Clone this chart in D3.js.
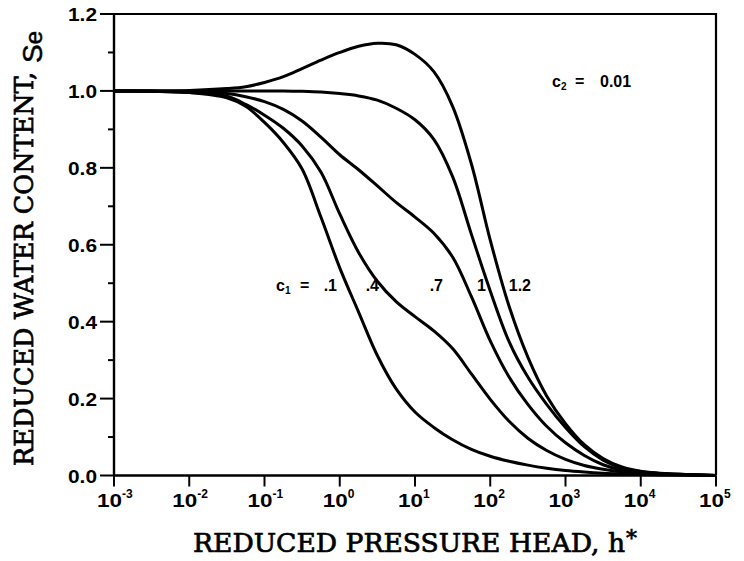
<!DOCTYPE html>
<html>
<head>
<meta charset="utf-8">
<script src="https://cdn.jsdelivr.net/npm/d3@7"></script>
<style>
  html, body { margin: 0; padding: 0; background: #fff; }
  svg { display: block; }
</style>
</head>
<body>
<svg id="chart" width="744" height="561"></svg>
<script>
// ---- data ----
// reduced pressure head h* (quarter-decade steps in the middle)
const hValues = [0.001, 0.00316, 0.01, 0.0316, 0.0562, 0.1, 0.178, 0.316, 0.562, 1, 1.78, 3.16, 5.62, 10, 17.8, 31.6, 56.2, 100, 178, 316, 562, 1000, 1780, 3160, 5620, 10000, 31600, 100000];
const seC1_01 = [1.0, 0.999, 0.996, 0.982, 0.96, 0.918, 0.866, 0.797, 0.672, 0.54, 0.425, 0.312, 0.225, 0.165, 0.125, 0.093, 0.068, 0.05, 0.037, 0.027, 0.019, 0.013, 0.009, 0.006, 0.004, 0.0025, 0.001, 0.0];
const seC1_04 = [1.0, 0.999, 0.996, 0.986, 0.965, 0.937, 0.903, 0.857, 0.789, 0.68, 0.58, 0.505, 0.452, 0.413, 0.376, 0.33, 0.264, 0.198, 0.141, 0.097, 0.065, 0.042, 0.026, 0.016, 0.009, 0.005, 0.002, 0.0];
const seC1_07 = [1.0, 1.0, 0.998, 0.993, 0.985, 0.972, 0.952, 0.922, 0.88, 0.834, 0.795, 0.753, 0.71, 0.672, 0.63, 0.568, 0.465, 0.35, 0.256, 0.185, 0.128, 0.085, 0.052, 0.028, 0.014, 0.008, 0.003, 0.0];
const seC1_10 = [1.0, 1.0, 1.0, 1.0, 1.0, 1.0, 1.0, 0.999, 0.997, 0.993, 0.987, 0.976, 0.955, 0.925, 0.874, 0.777, 0.627, 0.48, 0.348, 0.256, 0.185, 0.125, 0.075, 0.04, 0.019, 0.01, 0.003, 0.0];
const seC1_12 = [1.0, 1.0, 1.001, 1.006, 1.011, 1.022, 1.037, 1.058, 1.08, 1.1, 1.116, 1.124, 1.12, 1.095, 1.05, 0.96, 0.81, 0.612, 0.44, 0.308, 0.207, 0.135, 0.08, 0.044, 0.022, 0.011, 0.003, 0.0];
const seriesNames = [".1", ".4", ".7", "1", "1.2"];
const seriesValues = [seC1_01, seC1_04, seC1_07, seC1_10, seC1_12];
const yMajorTicks = [0, 0.2, 0.4, 0.6, 0.8, 1.0, 1.2];
const yMinorTicks = [0.1, 0.3, 0.5, 0.7, 0.9, 1.1];
const xTickExps = [-3, -2, -1, 0, 1, 2, 3, 4, 5];

// ---- layout ----
const svg = d3.select("#chart");
const x = d3.scaleLog().domain([1e-3, 1e5]).range([114, 716]);
const y = d3.scaleLinear().domain([0, 1.2]).range([475.5, 14]);
const ink = "#000";
const sans = "'Liberation Sans', Arial, Helvetica, sans-serif";
const serif = "'DejaVu Serif', 'Liberation Serif', serif";

// frame (top & right)
svg.append("path")
  .attr("d", `M${x(1e-3) - 14},${y(1.2)}H${x(1e5)}V${y(0)}`)
  .attr("fill", "none").attr("stroke", ink).attr("stroke-width", 2.2);

// y axis
const yAxis = svg.append("g").attr("transform", `translate(${x(1e-3)},0)`);
yAxis.append("line").attr("y1", y(0)).attr("y2", y(1.2)).attr("stroke", ink).attr("stroke-width", 2.4);
yAxis.selectAll(".ymaj").data(yMajorTicks).join("line")
  .attr("x1", -14).attr("x2", 0).attr("y1", d => y(d)).attr("y2", d => y(d))
  .attr("stroke", ink).attr("stroke-width", 2);
yAxis.selectAll(".ymin").data(yMinorTicks).join("line")
  .attr("x1", -6).attr("x2", 0).attr("y1", d => y(d)).attr("y2", d => y(d))
  .attr("stroke", ink).attr("stroke-width", 2);
yAxis.selectAll("text").data(yMajorTicks).join("text")
  .attr("x", -17).attr("y", d => y(d) + 7)
  .attr("text-anchor", "end")
  .attr("font-family", sans)
  .attr("font-weight", "bold").attr("font-size", 18)
  .attr("textLength", 29).attr("lengthAdjust", "spacingAndGlyphs")
  .text(d => d3.format(".1f")(d));

// x axis
const xAxis = svg.append("g").attr("transform", `translate(0,${y(0)})`);
xAxis.append("line").attr("x1", x(1e-3)).attr("x2", x(1e5)).attr("stroke", ink).attr("stroke-width", 2.6);
xAxis.selectAll(".xt").data(xTickExps).join("line")
  .attr("x1", d => x(Math.pow(10, d))).attr("x2", d => x(Math.pow(10, d)))
  .attr("y1", 0).attr("y2", 11)
  .attr("stroke", ink).attr("stroke-width", 2);
const xl = xAxis.selectAll(".xl").data(xTickExps).join("g")
  .attr("transform", d => `translate(${x(Math.pow(10, d))},0)`);
xl.append("text")
  .attr("x", -17).attr("y", 31)
  .attr("font-family", sans).attr("font-weight", "bold").attr("font-size", 18)
  .attr("textLength", 25).attr("lengthAdjust", "spacingAndGlyphs")
  .text("10");
xl.append("text")
  .attr("x", 8).attr("y", 22)
  .attr("font-family", sans).attr("font-weight", "bold").attr("font-size", 12)
  .text(d => (d < 0 ? "-" : "") + Math.abs(d));

// curves
const line = d3.line()
  .x((d, i) => x(hValues[i]))
  .y(d => y(d))
  .curve(d3.curveCatmullRom.alpha(0.5));
svg.append("g").selectAll("path").data(seriesValues).join("path")
  .attr("d", d => line(d))
  .attr("fill", "none").attr("stroke", ink).attr("stroke-width", 3)
  .attr("stroke-linejoin", "round");

// curve labels
const c1 = svg.append("text")
  .attr("x", 276).attr("y", 291)
  .attr("font-family", sans).attr("font-weight", "bold").attr("font-size", 16);
c1.append("tspan").text("c");
c1.append("tspan").attr("dy", 3).attr("font-size", 10).text("1");
c1.append("tspan").attr("dy", -3).attr("x", 300).text("=");
svg.selectAll(".cl").data(seriesNames).join("text")
  .attr("x", (d, i) => [337, 379, 443, 486, 531][i])
  .attr("y", 291)
  .attr("text-anchor", "end")
  .attr("font-family", sans).attr("font-weight", "bold").attr("font-size", 16)
  .text(d => d);

const c2 = svg.append("text")
  .attr("x", 552).attr("y", 87)
  .attr("font-family", sans).attr("font-weight", "bold").attr("font-size", 16);
c2.append("tspan").text("c");
c2.append("tspan").attr("dy", 3).attr("font-size", 10).text("2");
c2.append("tspan").attr("dy", -3).attr("x", 575).text("=");
c2.append("tspan").attr("x", 600).text("0.01");

// axis titles
svg.append("text")
  .attr("x", 193).attr("y", 552)
  .attr("font-family", serif).attr("font-size", 26)
  .attr("stroke", ink).attr("stroke-width", 0.7)
  .attr("textLength", 432).attr("lengthAdjust", "spacingAndGlyphs")
  .text("REDUCED PRESSURE HEAD, h");
svg.append("text")
  .attr("x", 626).attr("y", 546)
  .attr("font-family", serif).attr("font-size", 22)
  .attr("stroke", ink).attr("stroke-width", 0.6)
  .text("*");

svg.append("text")
  .attr("transform", "translate(33,466) rotate(-90)")
  .attr("font-family", serif).attr("font-size", 26)
  .attr("stroke", ink).attr("stroke-width", 0.7)
  .attr("textLength", 394).attr("lengthAdjust", "spacingAndGlyphs")
  .text("REDUCED WATER CONTENT,");
const se = svg.append("text")
  .attr("transform", "translate(42,63) rotate(-90)")
  .attr("font-family", sans).attr("font-size", 28)
  .attr("stroke", ink).attr("stroke-width", 0.5);
se.append("tspan").text("S");
se.append("tspan").attr("font-size", 24).text("e");
</script>
</body>
</html>
